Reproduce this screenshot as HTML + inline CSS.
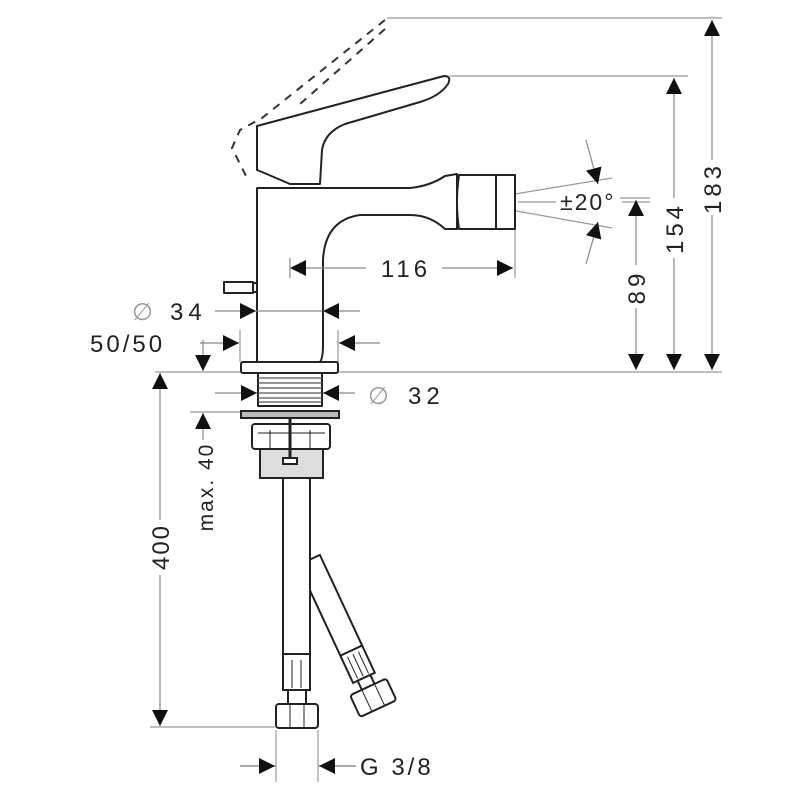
<!DOCTYPE html>
<html><head><meta charset="utf-8"><style>html,body{margin:0;padding:0;background:#fff}svg{display:block}</style></head>
<body>
<svg width="800" height="800" viewBox="0 0 800 800" xmlns="http://www.w3.org/2000/svg" font-family="Liberation Sans, sans-serif">
<defs>
<marker id="a" viewBox="0 0 10 10" refX="10" refY="5" markerWidth="16" markerHeight="16" markerUnits="userSpaceOnUse" orient="auto"><path d="M0,0 L10,5 L0,10 z" fill="#111"/></marker>
</defs>
<g stroke="#999" stroke-width="1.2" fill="none">
<line x1="387" y1="18" x2="722" y2="18"/>
<line x1="450" y1="76" x2="688" y2="76"/>
<line x1="155" y1="372" x2="722" y2="372"/>
<line x1="515" y1="230" x2="515" y2="278"/>
<line x1="620" y1="198" x2="650" y2="198"/>
<line x1="466" y1="202" x2="612" y2="178"/>
<line x1="466" y1="202" x2="612" y2="228"/>
<line x1="518" y1="202" x2="556" y2="202"/>
<line x1="622" y1="202" x2="650" y2="202"/>
<line x1="240" y1="330" x2="240" y2="362"/>
<line x1="338" y1="330" x2="338" y2="362"/>
<line x1="190" y1="412" x2="242" y2="412"/>
<line x1="276" y1="730" x2="276" y2="782"/>
<line x1="318" y1="730" x2="318" y2="782"/>
<line x1="150" y1="727" x2="275" y2="727"/>
<line x1="240" y1="766" x2="276" y2="766"/>
<line x1="318" y1="766" x2="356" y2="766"/>
</g>
<!-- dashed lever -->
<g stroke="#333" stroke-width="2" fill="none" stroke-dasharray="8,7">
<path d="M385,20 L262,118 L240,130 L232,148 L247,178"/>
<path d="M385,29 L300,104"/>
</g>
<!-- faucet -->
<g stroke="#222" stroke-width="2" fill="#fff" stroke-linejoin="round">
<path d="M257,126 L444,76 Q452,76 448,84 Q440,96 420,102 L345,124 Q325,132 322,150 L320,184 L290,184 L262,172 L257,170 Z"/>
<path d="M257,188 L410,188 Q430,186 445,176 L457,174 L457,229 L445,229 Q430,215 410,215 L360,215 Q325,220 323,260 L323,345 Q323,358 320,362 L257,362 Z"/>
<path d="M459,175 L515,175 L515,229 L459,229 Q455,202 459,175 Z"/>
<line x1="496" y1="175" x2="496" y2="229"/>
<rect x="224" y="282" width="29" height="11"/>
<rect x="253" y="283" width="4" height="9"/>
<rect x="241" y="362" width="97" height="11" rx="2"/>
<rect x="258" y="373" width="64" height="33"/>
</g>
<g stroke="#555" stroke-width="1.2">
<line x1="258" y1="378" x2="322" y2="378"/><line x1="258" y1="383" x2="322" y2="383"/><line x1="258" y1="388" x2="322" y2="388"/><line x1="258" y1="393" x2="322" y2="393"/><line x1="258" y1="398" x2="322" y2="398"/><line x1="258" y1="402" x2="322" y2="402"/>
</g>
<g stroke="#222" stroke-width="2" fill="#fff">
<rect x="241" y="411" width="98" height="7" fill="#bbb"/>
<rect x="252" y="424" width="78" height="25" rx="3"/>
<rect x="260" y="449" width="63" height="29" fill="#ddd"/>
<line x1="290" y1="418" x2="290" y2="460" stroke-width="3"/>
<rect x="283" y="458" width="14" height="6"/>
<line x1="270" y1="430" x2="270" y2="449" stroke-width="1"/><line x1="310" y1="430" x2="310" y2="449" stroke-width="1"/>
<line x1="258" y1="433" x2="325" y2="433" stroke-width="1"/>
<g transform="rotate(-25 309 560)">
<rect x="297" y="560" width="24" height="100" fill="#fff"/>
<rect x="297" y="660" width="24" height="30"/>
<line x1="303" y1="664" x2="303" y2="688" stroke-width="1"/><line x1="309" y1="664" x2="309" y2="688" stroke-width="1"/><line x1="315" y1="664" x2="315" y2="688" stroke-width="1"/>
<rect x="302" y="690" width="14" height="10"/>
<rect x="289" y="700" width="40" height="24" rx="3"/>
<line x1="302" y1="700" x2="302" y2="724" stroke-width="1"/><line x1="316" y1="700" x2="316" y2="724" stroke-width="1"/>
</g>
<rect x="283" y="478" width="27" height="176"/>
<rect x="283" y="654" width="27" height="36"/>
<line x1="292" y1="660" x2="292" y2="688" stroke-width="1"/><line x1="301" y1="660" x2="301" y2="688" stroke-width="1"/>
<rect x="288" y="690" width="18" height="14"/>
<rect x="276" y="704" width="42" height="24" rx="3"/>
<line x1="290" y1="704" x2="290" y2="728" stroke-width="1"/><line x1="304" y1="704" x2="304" y2="728" stroke-width="1"/>
</g>
<!-- dimension lines with arrows (drawn on top) -->
<g stroke="#888" stroke-width="1.2" fill="none">
<line x1="712" y1="160" x2="712" y2="20" marker-end="url(#a)"/>
<line x1="712" y1="215" x2="712" y2="370" marker-end="url(#a)"/>
<line x1="674" y1="198" x2="674" y2="78" marker-end="url(#a)"/>
<line x1="674" y1="258" x2="674" y2="370" marker-end="url(#a)"/>
<line x1="636" y1="265" x2="636" y2="200" marker-end="url(#a)"/>
<line x1="636" y1="308" x2="636" y2="370" marker-end="url(#a)"/>
<line x1="586" y1="140" x2="598" y2="184" marker-end="url(#a)"/>
<line x1="586" y1="264" x2="598" y2="222" marker-end="url(#a)"/>
<line x1="366" y1="268" x2="290" y2="268" marker-end="url(#a)"/>
<line x1="290" y1="258" x2="290" y2="278"/>
<line x1="442" y1="268" x2="513" y2="268" marker-end="url(#a)"/>
<line x1="215" y1="311" x2="256" y2="311" marker-end="url(#a)"/>
<line x1="256" y1="311" x2="322" y2="311"/>
<line x1="360" y1="311" x2="323" y2="311" marker-end="url(#a)"/>
<line x1="200" y1="343" x2="239" y2="343" marker-end="url(#a)"/>
<line x1="380" y1="343" x2="339" y2="343" marker-end="url(#a)"/>
<line x1="215" y1="393" x2="257" y2="393" marker-end="url(#a)"/>
<line x1="355" y1="393" x2="323" y2="393" marker-end="url(#a)"/>
<line x1="203" y1="340" x2="203" y2="371" marker-end="url(#a)"/>
<line x1="203" y1="440" x2="203" y2="413" marker-end="url(#a)"/>
<line x1="160" y1="520" x2="160" y2="373" marker-end="url(#a)"/>
<line x1="160" y1="575" x2="160" y2="726" marker-end="url(#a)"/>
<line x1="240" y1="766" x2="275" y2="766" marker-end="url(#a)"/>
<line x1="356" y1="766" x2="319" y2="766" marker-end="url(#a)"/>
</g>
<!-- text -->
<g fill="#222" font-size="24">
<text x="406" y="277" text-anchor="middle" letter-spacing="4">116</text>
<text x="560" y="210" letter-spacing="2" font-size="23">±20°</text>
<text x="132" y="320" fill="#999">∅</text>
<text x="170" y="320" letter-spacing="5">34</text>
<text x="90" y="352" letter-spacing="3">50/50</text>
<text x="368" y="404" fill="#999">∅</text>
<text x="408" y="404" letter-spacing="5">32</text>
<text x="360" y="775" letter-spacing="3">G 3/8</text>
<text transform="translate(721,188) rotate(-90)" text-anchor="middle" letter-spacing="4">183</text>
<text transform="translate(683,228) rotate(-90)" text-anchor="middle" letter-spacing="4">154</text>
<text transform="translate(645,287) rotate(-90)" text-anchor="middle" letter-spacing="4">89</text>
<text transform="translate(169,547) rotate(-90)" text-anchor="middle" letter-spacing="2">400</text>
<text transform="translate(213,487) rotate(-90)" text-anchor="middle" font-size="21" letter-spacing="2">max. 40</text>
</g>
</svg>
</body></html>
